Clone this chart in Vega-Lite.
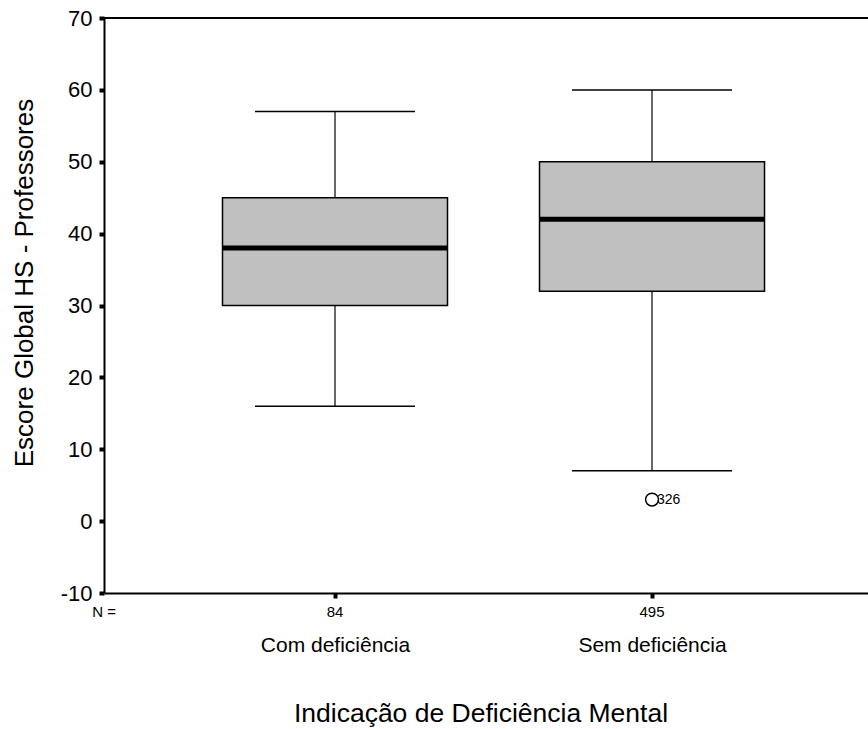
{
  "$schema": "https://vega.github.io/schema/vega-lite/v6.json",
  "width": 764,
  "height": 575,
  "autosize": {"type": "none"},
  "padding": {"left": 104, "top": 18, "right": 0, "bottom": 136},
  "background": "white",
  "config": {
    "view": {"stroke": null},
    "font": "Liberation Sans",
    "text": {"font": "Liberation Sans"}
  },
  "datasets": {
    "stats": [
      {"grupo": "Com deficiência", "n": 84, "min": 16, "q1": 30, "mediana": 38, "q3": 45, "max": 57},
      {"grupo": "Sem deficiência", "n": 495, "min": 7, "q1": 32, "mediana": 42, "q3": 50, "max": 60}
    ],
    "outliers": [
      {"grupo": "Sem deficiência", "valor": 3, "caso": "326"}
    ],
    "nrotulo": [
      {"rotulo": "N ="}
    ]
  },
  "resolve": {"scale": {"x": "independent"}, "axis": {"x": "independent"}},
  "layer": [
    {
      "layer": [
        {
          "data": {"name": "stats"},
          "mark": {"type": "rule", "color": "black", "strokeWidth": 1.2},
          "encoding": {
            "x": {
              "field": "grupo",
              "type": "nominal",
              "sort": ["Com deficiência", "Sem deficiência"],
              "scale": {"type": "point", "padding": 0.705, "align": 0.5168},
              "axis": {
                "orient": "bottom",
                "title": "Indicação de Deficiência Mental",
                "titleFont": "Liberation Sans",
                "titleFontSize": 26.5,
                "titleFontWeight": "normal",
                "titleColor": "black",
                "titlePadding": 45,
                "titleX": 376.5,
                "labelAngle": 0,
                "labelFont": "Liberation Sans",
                "labelFontSize": 21,
                "labelColor": "black",
                "labelPadding": 36,
                "domainColor": "black",
                "domainWidth": 2,
                "ticks": true,
                "tickColor": "black",
                "tickWidth": 4,
                "tickSize": 5
              }
            },
            "y": {
              "field": "min",
              "type": "quantitative",
              "scale": {"domain": [-10, 70], "nice": false, "zero": false},
              "axis": {
                "title": "Escore Global HS - Professores",
                "titleFont": "Liberation Sans",
                "titleFontSize": 26,
                "titleFontWeight": "normal",
                "titleColor": "black",
                "titlePadding": 23,
                "titleY": 264.5,
                "values": [-10, 0, 10, 20, 30, 40, 50, 60, 70],
                "labelExpr": "'' + datum.value",
                "labelFont": "Liberation Sans",
                "labelFontSize": 22,
                "labelPadding": 7,
                "labelColor": "black",
                "grid": false,
                "domainColor": "black",
                "domainWidth": 2,
                "ticks": true,
                "tickColor": "black",
                "tickWidth": 4,
                "tickSize": 5
              }
            },
            "y2": {"field": "max"}
          }
        },
        {
          "data": {"name": "stats"},
          "mark": {"type": "bar", "size": 225, "fill": "#c0c0c0", "stroke": "black", "strokeWidth": 1.5},
          "encoding": {
            "x": {"field": "grupo", "type": "nominal", "sort": ["Com deficiência", "Sem deficiência"]},
            "y": {"field": "q1", "type": "quantitative"},
            "y2": {"field": "q3"}
          }
        },
        {
          "data": {"name": "stats"},
          "mark": {"type": "tick", "size": 225, "thickness": 5, "color": "black", "opacity": 1},
          "encoding": {
            "x": {"field": "grupo", "type": "nominal", "sort": ["Com deficiência", "Sem deficiência"]},
            "y": {"field": "mediana", "type": "quantitative"}
          }
        },
        {
          "data": {"name": "stats"},
          "mark": {"type": "tick", "size": 160, "thickness": 1.5, "color": "black", "opacity": 1},
          "encoding": {
            "x": {"field": "grupo", "type": "nominal", "sort": ["Com deficiência", "Sem deficiência"]},
            "y": {"field": "max", "type": "quantitative"}
          }
        },
        {
          "data": {"name": "stats"},
          "mark": {"type": "tick", "size": 160, "thickness": 1.5, "color": "black", "opacity": 1},
          "encoding": {
            "x": {"field": "grupo", "type": "nominal", "sort": ["Com deficiência", "Sem deficiência"]},
            "y": {"field": "min", "type": "quantitative"}
          }
        },
        {
          "data": {"name": "stats"},
          "mark": {"type": "text", "fontSize": 15, "color": "black", "baseline": "middle", "font": "Liberation Sans", "clip": false},
          "encoding": {
            "x": {"field": "grupo", "type": "nominal", "sort": ["Com deficiência", "Sem deficiência"]},
            "y": {"datum": -12.7, "type": "quantitative"},
            "text": {"field": "n", "type": "nominal"}
          }
        },
        {
          "data": {"name": "outliers"},
          "mark": {"type": "point", "shape": "circle", "filled": false, "size": 165, "color": "black", "strokeWidth": 1.5, "opacity": 1},
          "encoding": {
            "x": {"field": "grupo", "type": "nominal", "sort": ["Com deficiência", "Sem deficiência"]},
            "y": {"field": "valor", "type": "quantitative"}
          }
        },
        {
          "data": {"name": "outliers"},
          "mark": {"type": "text", "fontSize": 14, "color": "black", "align": "left", "baseline": "middle", "dx": 5, "font": "Liberation Sans"},
          "encoding": {
            "x": {"field": "grupo", "type": "nominal", "sort": ["Com deficiência", "Sem deficiência"]},
            "y": {"field": "valor", "type": "quantitative"},
            "text": {"field": "caso"}
          }
        },
        {
          "data": {"values": [{}]},
          "mark": {"type": "rule", "color": "black", "strokeWidth": 2},
          "encoding": {
            "y": {"datum": 70, "type": "quantitative"}
          }
        }
      ]
    },
    {
      "data": {"name": "nrotulo"},
      "mark": {"type": "text", "fontSize": 15, "color": "black", "baseline": "middle", "align": "center", "font": "Liberation Sans", "clip": false},
      "encoding": {
        "x": {
          "field": "rotulo",
          "type": "nominal",
          "scale": {"type": "point", "padding": 0, "align": 0},
          "axis": null
        },
        "y": {"datum": -12.7, "type": "quantitative"},
        "text": {"field": "rotulo"}
      }
    }
  ]
}
